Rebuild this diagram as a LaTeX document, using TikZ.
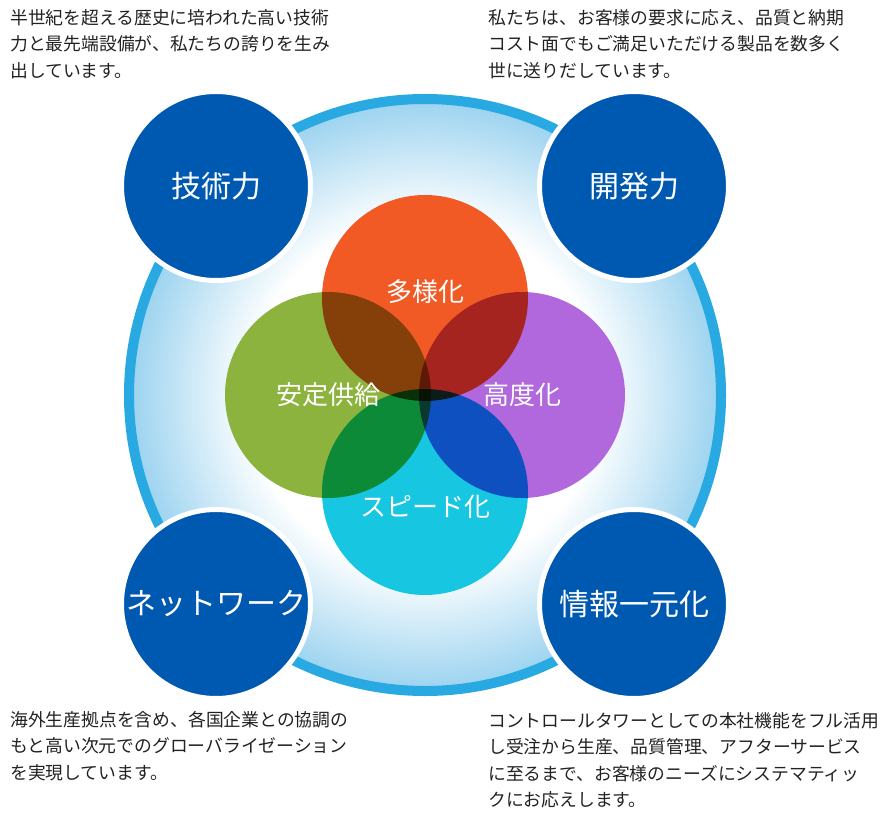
\documentclass[tikz,border=0pt]{standalone}
\usepackage{fontspec}
\setmainfont{Noto Sans CJK JP}
\usetikzlibrary{positioning}

\definecolor{ringblue}{RGB}{41,169,225}
\definecolor{glowblue}{RGB}{158,212,240}
\definecolor{pillarblue}{RGB}{0,89,176}
\definecolor{petalorange}{RGB}{241,90,36}
\definecolor{petalgreen}{RGB}{141,179,63}
\definecolor{petalpurple}{RGB}{176,104,220}
\definecolor{petalcyan}{RGB}{23,198,224}
\definecolor{notegray}{RGB}{34,34,34}

\pgfdeclareradialshading{ringglow}{\pgfpoint{0bp}{0bp}}{color(0bp)=(white); color(15bp)=(white); color(25bp)=(glowblue); color(50bp)=(glowblue)}

\begin{document}
\begin{tikzpicture}[x=1pt, y=-1pt,
    pillar/.style={circle, fill=pillarblue, draw=white, line width=5pt, minimum size=189pt, inner sep=0pt, text=white, font=\fontsize{30}{30}\selectfont},
    petal/.style={circle, minimum size=206pt, inner sep=0pt},
    petallabel/.style={text=white, inner sep=0pt, font=\fontsize{26}{26}\selectfont},
    note/.style={anchor=north west, align=left, inner sep=0pt, text=notegray, font=\fontsize{17.8}{26.5}\selectfont}]
    \useasboundingbox (0,0) rectangle (888,834);

    % background ring
    \shade[shading=ringglow] (425,395) circle (292);
    \node (ring) [circle, draw=ringblue, line width=10pt, minimum size=592pt, inner sep=0pt] at (425,395) {};

    % four strengths
    \node (tech) [pillar] at (216,186) {技術力};
    \node (dev) [pillar] at (634,186) {開発力};
    \node (network) [pillar] at (216,604) {ネットワーク};
    \node (info) [pillar] at (634,604) {情報一元化};

    % overlapping circles
    \begin{scope}[blend group=multiply]
        \node (diverse) [petal, fill=petalorange] at (425,298) {};
        \node (stable) [petal, fill=petalgreen] at (328,395) {};
        \node (advanced) [petal, fill=petalpurple] at (522,395) {};
        \node (speed) [petal, fill=petalcyan] at (425,492) {};
    \end{scope}
    \node (diverselabel) [petallabel] at ([yshift=6pt]diverse.center) {多様化};
    \node (stablelabel) [petallabel] at (stable.center) {安定供給};
    \node (advancedlabel) [petallabel] at (advanced.center) {高度化};
    \node (speedlabel) [petallabel] at ([yshift=-15pt]speed.center) {スピード化};

    % descriptions
    \node (techtext) [note] at (10,9) {半世紀を超える歴史に培われた高い技術\\力と最先端設備が、私たちの誇りを生み\\出しています。};
    \node (devtext) [note] at (488,9) {私たちは、お客様の要求に応え、品質と納期\\コスト面でもご満足いただける製品を数多く\\世に送りだしています。};
    \node (networktext) [note] at (10,711) {海外生産拠点を含め、各国企業との協調の\\もと高い次元でのグローバライゼーション\\を実現しています。};
    \node (infotext) [note] at (488,712) {コントロールタワーとしての本社機能をフル活用\\し受注から生産、品質管理、アフターサービス\\に至るまで、お客様のニーズにシステマティッ\\クにお応えします。};
\end{tikzpicture}
\end{document}
